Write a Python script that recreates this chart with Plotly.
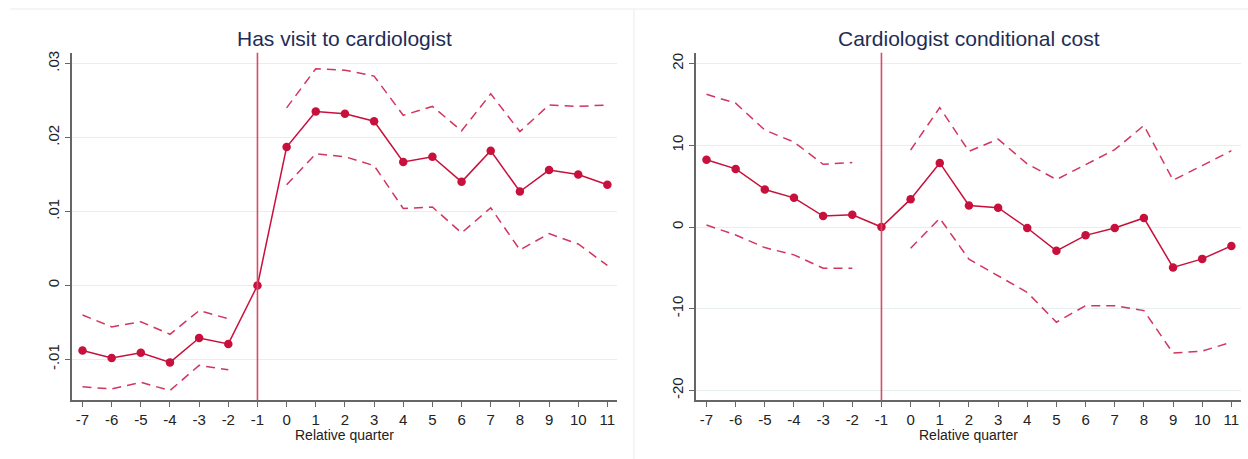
import plotly.graph_objects as go

quarters = [-7, -6, -5, -4, -3, -2, -1, 0, 1, 2, 3, 4, 5, 6, 7, 8, 9, 10, 11]
x_ticklabels = [str(q) for q in quarters]

# Panel 1: Has visit to cardiologist
visit_coef = [-0.0088, -0.0098, -0.0091, -0.0104, -0.0071, -0.0079, 0.0,
              0.0187, 0.0235, 0.0232, 0.0222, 0.0167, 0.0174, 0.0140, 0.0182,
              0.0127, 0.0156, 0.0150, 0.0136]
visit_upper = [-0.0040, -0.0056, -0.0049, -0.0066, -0.0034, -0.0045, None,
               0.0240, 0.0293, 0.0291, 0.0283, 0.0230, 0.0242, 0.0209, 0.0259,
               0.0208, 0.0244, 0.0242, 0.0244]
visit_lower = [-0.0137, -0.0140, -0.0131, -0.0142, -0.0108, -0.0114, None,
               0.0136, 0.0178, 0.0174, 0.0162, 0.0104, 0.0106, 0.0071, 0.0105,
               0.0048, 0.0070, 0.0056, 0.0027]
visit_yticks = [-0.01, 0.0, 0.01, 0.02, 0.03]
visit_yticktext = ["-.01", "0", ".01", ".02", ".03"]

# Panel 2: Cardiologist conditional cost
cost_coef = [8.24, 7.11, 4.59, 3.57, 1.34, 1.50, 0.0,
             3.41, 7.84, 2.64, 2.36, -0.12, -2.92, -1.02, -0.12,
             1.10, -4.95, -3.90, -2.31]
cost_upper = [16.24, 15.15, 11.86, 10.40, 7.68, 7.88, None,
              9.42, 14.62, 9.26, 10.76, 7.72, 5.81, 7.63, 9.46,
              12.43, 5.73, 7.51, 9.34]
cost_lower = [0.24, -0.97, -2.52, -3.41, -5.04, -5.04, None,
              -2.60, 1.06, -3.94, -5.97, -8.00, -11.65, -9.62, -9.62,
              -10.23, -15.43, -15.19, -14.09]
cost_yticks = [-20, -10, 0, 10, 20]
cost_yticktext = ["-20", "-10", "0", "10", "20"]

titles = ["Has visit to cardiologist", "Cardiologist conditional cost"]
xlabel = "Relative quarter"
event_quarter = -1

MAIN = "#c8103c"
CI = "#d2355e"
VLINE = "#d94a68"
FONT = "Liberation Sans Narrow, Liberation Sans, Arial, sans-serif"

W, H = 1248, 459
def px_x(p):
    return p / W
def px_y(p):
    return 1 - p / H

fig = go.Figure()

panels = [
    (visit_coef, visit_upper, visit_lower, "x", "y"),
    (cost_coef, cost_upper, cost_lower, "x2", "y2"),
]
for coef, up, lo, xa, ya in panels:
    for band in (up, lo):
        fig.add_trace(go.Scatter(
            x=quarters, y=band, mode="lines", xaxis=xa, yaxis=ya,
            line=dict(color=CI, width=1.5, dash="9px,6px"),
            connectgaps=False, hoverinfo="skip", showlegend=False))
    fig.add_trace(go.Scatter(
        x=quarters, y=coef, mode="lines+markers", xaxis=xa, yaxis=ya,
        line=dict(color=MAIN, width=1.5),
        marker=dict(color=MAIN, size=8.5),
        showlegend=False))

xaxis_common = dict(
    range=[-7.36, 11.33], tickmode="array", tickvals=quarters, ticktext=x_ticklabels,
    ticks="outside", ticklen=5, tickcolor="#666666", tickwidth=1,
    showline=True, linecolor="#666666", linewidth=1.5,
    showgrid=False, zeroline=False,
    tickfont=dict(family=FONT, size=15, color="#222222"),
)
yaxis_common = dict(
    tickmode="array", ticks="outside", ticklen=5, tickcolor="#666666", tickwidth=1,
    showline=True, linecolor="#666666", linewidth=1.5,
    showgrid=True, gridcolor="#e6eeee", gridwidth=1.3, zeroline=False,
    tickangle=-90,
    tickfont=dict(family=FONT, size=15, color="#222222"),
)

fig.update_layout(
    width=W, height=H, autosize=False,
    margin=dict(l=0, r=0, t=0, b=0),
    paper_bgcolor="white", plot_bgcolor="white",
    xaxis=dict(domain=[px_x(72), px_x(617)], anchor="y", **xaxis_common),
    yaxis=dict(domain=[px_y(400), px_y(51)], anchor="x",
               range=[-0.01552, 0.03145], tickvals=visit_yticks,
               ticktext=visit_yticktext, **yaxis_common),
    xaxis2=dict(domain=[px_x(696), px_x(1241)], anchor="y2", **xaxis_common),
    yaxis2=dict(domain=[px_y(400), px_y(51)], anchor="x2",
                range=[-21.2, 21.32], tickvals=cost_yticks,
                ticktext=cost_yticktext, **yaxis_common),
)

# Vertical event lines
for xa, ya in (("x", "y"), ("x2", "y2")):
    fig.add_shape(type="line", xref=xa, yref=f"{ya} domain",
                  x0=event_quarter, x1=event_quarter, y0=0, y1=1,
                  line=dict(color=VLINE, width=1.6), layer="above")

# Faint panel borders
fig.add_shape(type="line", xref="paper", yref="paper",
              x0=px_x(10), x1=1, y0=px_y(7), y1=px_y(7),
              line=dict(color="#ececec", width=1))
fig.add_shape(type="line", xref="paper", yref="paper",
              x0=px_x(634), x1=px_x(634), y0=0, y1=px_y(7),
              line=dict(color="#ececec", width=1))

# Titles and axis labels
centers = [(72 + 617) / 2, (696 + 1241) / 2]
for c, t in zip(centers, titles):
    fig.add_annotation(text=t, xref="paper", yref="paper", x=px_x(c), y=px_y(37),
                       showarrow=False, xanchor="center", yanchor="middle",
                       font=dict(family=FONT, size=21, color="#1e2d55"))
    fig.add_annotation(text=xlabel, xref="paper", yref="paper", x=px_x(c), y=px_y(435),
                       showarrow=False, xanchor="center", yanchor="middle",
                       font=dict(family=FONT, size=14, color="#222222"))

fig.write_html(
    "out.html",
    config={"displayModeBar": False},
    post_script="document.body.style.margin='0';document.body.style.padding='0';"
                "document.documentElement.style.overflow='hidden';",
)
